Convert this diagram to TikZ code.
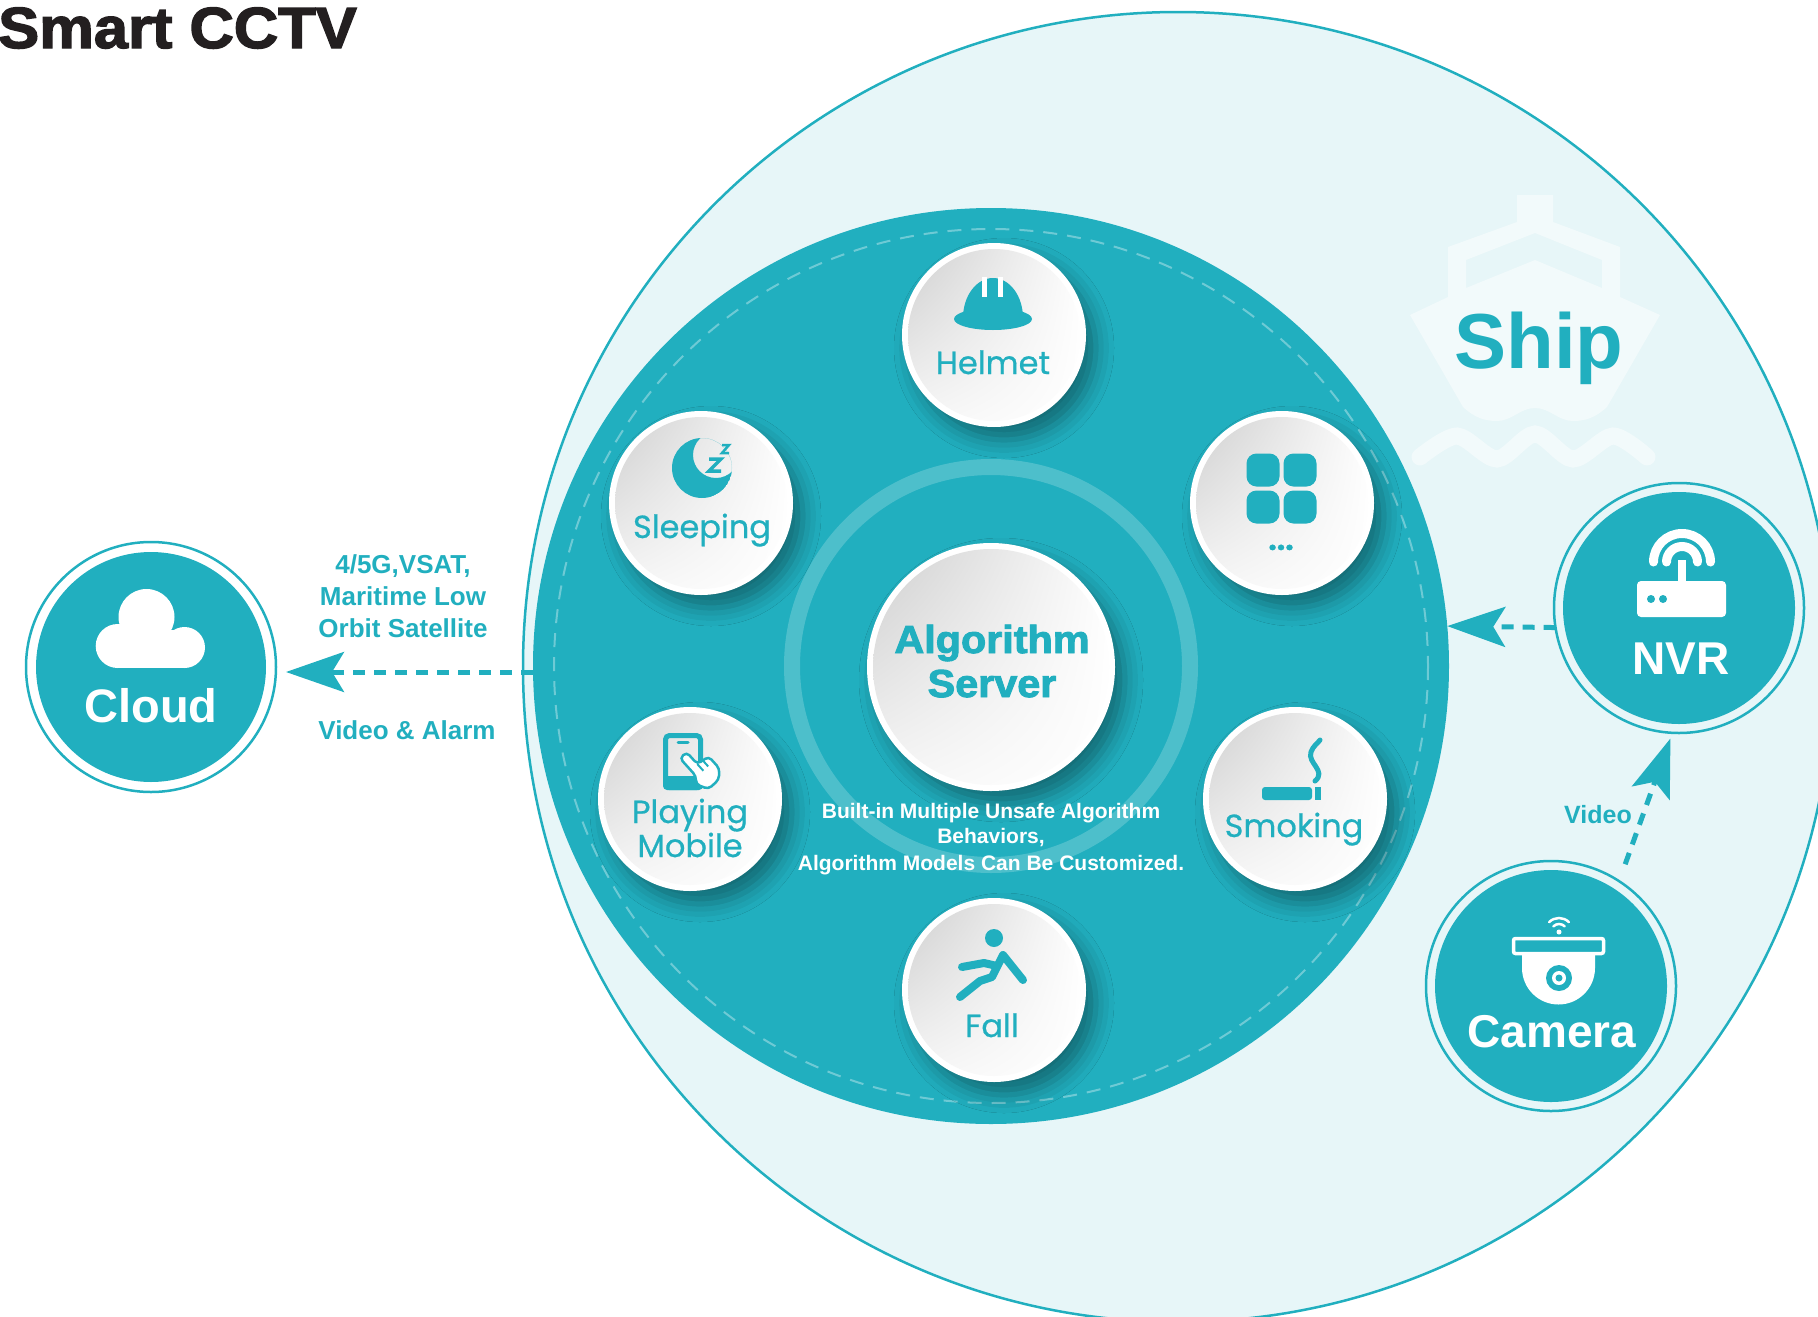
\documentclass[tikz,border=0pt]{standalone}
\usepackage{fontspec}
\setmainfont{Liberation Sans}
\newfontfamily\popfont{Poppins}[FakeBold=0.6]
\newfontfamily\heavyfont{Liberation Sans}[BoldFeatures={FakeBold=2.5,FakeStretch=1.06}]
\usetikzlibrary{arrows.meta,shadows.blur,shadings}
\definecolor{brand}{RGB}{33,175,191}
\definecolor{shipbg}{RGB}{231,246,248}
\definecolor{shipmark}{RGB}{242,250,251}
\definecolor{ink}{RGB}{35,31,32}
\newcommand{\setfs}[1]{\fontsize{#1}{#1}\selectfont}

\begin{document}
\begin{tikzpicture}[x=1pt, y=-1pt,
  ring/.style={circle, draw=brand, line width=2.5pt, minimum size=250pt, inner sep=0pt, outer sep=0pt},
  bubble/.style={circle, fill=white, minimum size=#1, inner sep=0pt, outer sep=0pt,
    blur shadow={shadow xshift=10pt, shadow yshift=-13pt, shadow blur radius=18pt, shadow opacity=38},
    path picture={\shade[upper left=black!20, upper right=white, lower left=black!3, lower right=white]
      (path picture bounding box.center) circle[radius=#1/2-6pt];}},
  bubble/.default=184pt,
  hubtext/.style={text=white, font=\bfseries\setfs{46}, anchor=base, inner sep=0pt},
  lbl/.style={text=brand, font=\popfont\setfs{32}, anchor=base, inner sep=0pt},
  linktext/.style={text=brand, font=\bfseries\setfs{26}, anchor=base, inner sep=0pt},
  desc/.style={text=white, font=\bfseries\setfs{21}, anchor=base, inner sep=0pt},
  flow/.style={brand, line width=5pt, dash pattern=on 12pt off 9pt,
    -{Stealth[length=58pt, width=40pt, inset=12pt]}},
]
\useasboundingbox (0,0) rectangle (1818,1317);
\clip (0,0) rectangle (1818,1317);

% title
\node[anchor=base west, inner sep=0pt, text=ink, font=\heavyfont\bfseries\setfs{58}] (title) at (-2,48) {Smart CCTV};

% ship zone
\draw[brand, fill=shipbg, line width=2.5pt] (1178,667) circle[radius=655];
% ship watermark
\fill[shipmark, even odd rule]
  (1448,247) -- (1517,222) -- (1517,195) -- (1553,195) -- (1553,222) -- (1620,247)
  -- (1620,297) -- (1660,315) -- (1607,407)
  .. controls (1595,418) and (1585,421) .. (1573,421)
  .. controls (1558,421) and (1550,408) .. (1535,408)
  .. controls (1520,408) and (1512,421) .. (1497,421)
  .. controls (1485,421) and (1475,418) .. (1463,407)
  -- (1410,315) -- (1448,297) -- cycle
  (1466,260) -- (1535,233) -- (1602,260) -- (1602,288) -- (1535,260) -- (1466,288) -- cycle;
\draw[shipmark, line width=17pt, line cap=round] plot[smooth] coordinates
  {(1420,457) (1457,436) (1497,459) (1535,434) (1573,459) (1613,436) (1647,457)};
\node[anchor=base, inner sep=0pt, text=brand, font=\bfseries\setfs{78}] (shiplbl) at (1539,368) {Ship};

% algorithm core
\node[circle, fill=brand, minimum size=916pt, inner sep=0pt, outer sep=0pt] (core) at (991,666) {};
\draw[white, opacity=.35, line width=2pt, dash pattern=on 14pt off 10pt] (core.center) circle[radius=437];
\draw[white, opacity=.2, line width=16pt] (core.center) circle[radius=199];

% behaviour bubbles
\node[bubble] (helmet) at (994,335) {};
\node[bubble] (sleep) at (701,503) {};
\node[bubble] (more) at (1282,503) {};
\node[bubble] (mobile) at (690,799) {};
\node[bubble] (smoke) at (1295,799) {};
\node[bubble] (fall) at (994,990) {};
\node[bubble=248pt] (server) at (991,667) {};

\node[anchor=base, inner sep=0pt, text=brand, font=\heavyfont\bfseries\setfs{39}] (srv1) at (992,653) {Algorithm};
\node[anchor=base, inner sep=0pt, text=brand, font=\heavyfont\bfseries\setfs{39}] (srv2) at (992,697) {Server};

\node[desc] (desc1) at (991,818) {Built-in Multiple Unsafe Algorithm};
\node[desc] (desc2) at (991,843) {Behaviors,};
\node[desc] (desc3) at (991,870) {Algorithm Models Can Be Customized.};

% helmet icon
\fill[brand] (963,318) arc[start angle=180, end angle=360, x radius=30, y radius=40] -- cycle;
\fill[brand] (993,319) ellipse[x radius=39, y radius=11];
\fill[white] (982,277) rectangle (987,297);
\fill[white] (998,277) rectangle (1003,297);
\node[lbl] (helmetlbl) at (993,374) {Helmet};

% sleeping icon
\begin{scope}
  \clip (702,468) circle[radius=30];
  \fill[brand, even odd rule] (702,468) circle[radius=30] (716,455) circle[radius=23];
\end{scope}
\draw[brand, line width=3.5pt] (709,459) -- (721,459) -- (709,471) -- (721,471);
\draw[brand, line width=2.5pt] (722,445) -- (729,445) -- (722,453) -- (729,453);
\node[lbl] (sleeplbl) at (702,538) {Sleeping};

% more icon
\fill[brand, rounded corners=10pt] (1246.5,453.5) rectangle ++(33,33);
\fill[brand, rounded corners=10pt] (1283.5,453.5) rectangle ++(33,33);
\fill[brand, rounded corners=10pt] (1246.5,490.5) rectangle ++(33,33);
\fill[brand, rounded corners=10pt] (1283.5,490.5) rectangle ++(33,33);
\node[lbl, font=\popfont\bfseries\setfs{30}] (morelbl) at (1281,550) {...};

% mobile icon
\fill[brand, rounded corners=4pt] (663,776) rectangle (703,790);
\draw[brand, line width=5pt, rounded corners=4pt] (665.5,735.5) rectangle (700.5,787.5);
\draw[brand, line width=3pt, line cap=round] (678,742) -- (688,742);
\begin{scope}[shift={(702,776)}, rotate=42]
  \filldraw[fill=white, draw=brand, line width=2.5pt, rounded corners=4pt]
    (-4.5,-28) -- (4.5,-28) -- (4.5,-12) -- (18,-10) -- (18,6) -- (10,14) -- (-4,14) -- (-10,2) -- (-4.5,-4) -- cycle;
  \draw[brand, line width=2pt] (4.5,-12) -- (4.5,-3) (11,-11) -- (11,-3);
\end{scope}
\node[lbl] (mobilelbl1) at (690,823) {Playing};
\node[lbl] (mobilelbl2) at (690,857) {Mobile};

% smoking icon
\fill[brand, rounded corners=3pt] (1262,787) rectangle (1312,800);
\fill[brand] (1315,787) rectangle (1321,800);
\draw[brand, line width=5pt, line cap=round] (1315,781) .. controls (1327,771) and (1307,763) .. (1311,752)
  .. controls (1313,746) and (1318,743) .. (1320,740);
\node[lbl] (smokelbl) at (1294,837) {Smoking};

% fall icon
\fill[brand] (994,938) circle[radius=9];
\draw[brand, line width=8pt, line cap=round, line join=round]
  (1003,955) -- (992,977)
  (1003,955) -- (1023,980)
  (992,977) -- (980,981) -- (960,997)
  (997,966) -- (984,963) -- (962,967);
\node[lbl] (falllbl) at (992,1037) {Fall};

% cloud
\node[ring] (cloud) at (151,667) {};
\fill[brand] (cloud.center) circle[radius=115];
\fill[white] (146.5,617) circle[radius=28];
\fill[white] (184.5,647.5) circle[radius=20.5];
\fill[white] (117.7,646) circle[radius=22];
\fill[white] (117.7,630) rectangle (184.5,668);
\node[hubtext, font=\bfseries\setfs{47}] (cloudlbl) at (151,722) {Cloud};

% NVR
\node[ring] (nvr) at (1679,608) {};
\fill[brand] (nvr.center) circle[radius=116];
\fill[white, rounded corners=4pt] (1637,581) rectangle (1726,617);
\fill[brand] (1651,599) circle[radius=4];
\fill[brand] (1663,599) circle[radius=4];
\draw[white, line width=8pt] (1682,560) -- (1682,583);
\draw[white, line width=9pt, line cap=round] (1666.5,562) arc[start angle=180, end angle=360, radius=15.5];
\draw[white, line width=9pt, line cap=round] (1653.5,562) arc[start angle=180, end angle=360, radius=28.5];
\node[hubtext] (nvrlbl) at (1681,674) {NVR};

% camera
\node[ring] (camera) at (1551,986) {};
\fill[brand] (camera.center) circle[radius=116];
\draw[white, line width=3.5pt, rounded corners=2pt] (1513.5,938.5) rectangle (1603.5,953.5);
\fill[white] (1522,955) -- (1522,968) arc[start angle=180, end angle=0, radius=36.5] -- (1595,955) -- cycle;
\fill[brand] (1559,978) circle[radius=13];
\fill[white] (1559,978) circle[radius=7];
\fill[brand] (1559,978) circle[radius=3.5];
\fill[white] (1559,932) circle[radius=2.5];
\draw[white, line width=2.5pt, line cap=round] (1559,932) ++(225:8) arc[start angle=225, end angle=315, radius=8];
\draw[white, line width=2.5pt, line cap=round] (1559,932) ++(225:14) arc[start angle=225, end angle=315, radius=14];
\node[hubtext] (cameralbl) at (1552,1047) {Camera};

% links
\draw[flow, shorten >=10pt] ([yshift=-6pt]core.west) -- ([yshift=-5pt]cloud.east);
\draw[flow] (nvr.189) -- (core.5);
\draw[flow, shorten <=18pt, shorten >=6pt] (camera.57) -- (nvr.267);

\node[linktext] (net1) at (403,573) {4/5G,VSAT,};
\node[linktext] (net2) at (403,605) {Maritime Low};
\node[linktext] (net3) at (403,637) {Orbit Satellite};
\node[linktext] (cloudflow) at (407,739) {Video \& Alarm};
\node[linktext, font=\bfseries\setfs{25}] (camflow) at (1598,823) {Video};
\end{tikzpicture}
\end{document}
